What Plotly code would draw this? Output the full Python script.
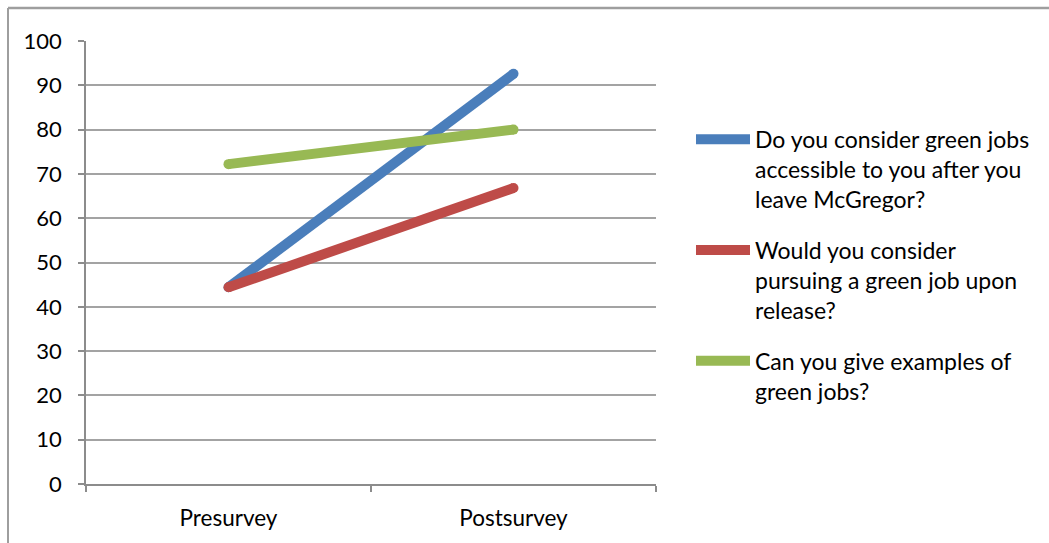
import plotly.graph_objects as go

categories = ["Presurvey", "Postsurvey"]
series_names = [
    "Do you consider green jobs<br>accessible to you after you<br>leave McGregor?",
    "Would you consider<br>pursuing a green job upon<br>release?",
    "Can you give examples of<br>green jobs?",
]
accessible = [44.4, 92.6]
pursuing = [44.4, 66.8]
examples = [72.2, 80.0]
y_ticks = [0, 10, 20, 30, 40, 50, 60, 70, 80, 90, 100]

colors = ["#4A7EBB", "#BE4B48", "#98B954"]
values = [accessible, pursuing, examples]

W, H = 1049, 543
ML, MR, MT, MB = 86, 393, 41, 59
FONT = "Lato, Carlito, Calibri, sans-serif"

fig = go.Figure()
for i, (name, vals, col) in enumerate(zip(series_names, values, colors)):
    fig.add_trace(go.Scatter(
        x=categories, y=vals, mode="lines", name=name,
        legendgroup=f"g{i}",
        line=dict(color=col, width=10),
    ))
    # round end caps
    fig.add_trace(go.Scatter(
        x=categories, y=vals, mode="markers", showlegend=False,
        legendgroup=f"g{i}", hoverinfo="skip",
        marker=dict(color=col, size=10, line=dict(width=0)),
    ))

pw = W - ML - MR
ph = H - MT - MB
frame_x = (8 - ML) / pw
frame_y = 1 + (MT - 8) / ph

fig.update_layout(
    width=W, height=H,
    margin=dict(l=ML, r=MR, t=MT, b=MB, pad=0),
    paper_bgcolor="white", plot_bgcolor="white",
    font=dict(family=FONT, size=21, color="#000000"),
    showlegend=True,
    legend=dict(
        x=1.0614, xanchor="left", y=0.8265, yanchor="top",
        font=dict(family=FONT, size=23, color="#000000"),
        valign="top", tracegroupgap=18, itemwidth=54,
        bgcolor="rgba(0,0,0,0)",
    ),
    xaxis=dict(
        type="category", range=[-0.5, 1.5],
        showgrid=False, showline=True, linecolor="#8C8C8C", linewidth=1.5,
        ticks="outside", ticklen=6, tickcolor="#8C8C8C", tickwidth=1.5,
        tickson="boundaries", ticklabelstandoff=13,
        tickfont=dict(family=FONT, size=22.5),
        zeroline=False,
    ),
    yaxis=dict(
        range=[0, 100], tickvals=y_ticks,
        showgrid=True, gridcolor="#A3A3A3", gridwidth=1.6,
        showline=True, linecolor="#8C8C8C", linewidth=1.5,
        ticks="outside", ticklen=6, tickcolor="#8C8C8C", tickwidth=1.5,
        ticklabelstandoff=12,
        tickfont=dict(family=FONT, size=22),
        zeroline=False,
    ),
    shapes=[
        dict(type="line", xref="paper", yref="paper",
             x0=frame_x, x1=1 + MR / pw, y0=frame_y, y1=frame_y,
             line=dict(color="#9E9E9E", width=2.5)),
        dict(type="line", xref="paper", yref="paper",
             x0=frame_x, x1=frame_x, y0=frame_y, y1=-MB / ph - 0.01,
             line=dict(color="#9E9E9E", width=2)),
    ],
)

fig.write_html("out.html")
